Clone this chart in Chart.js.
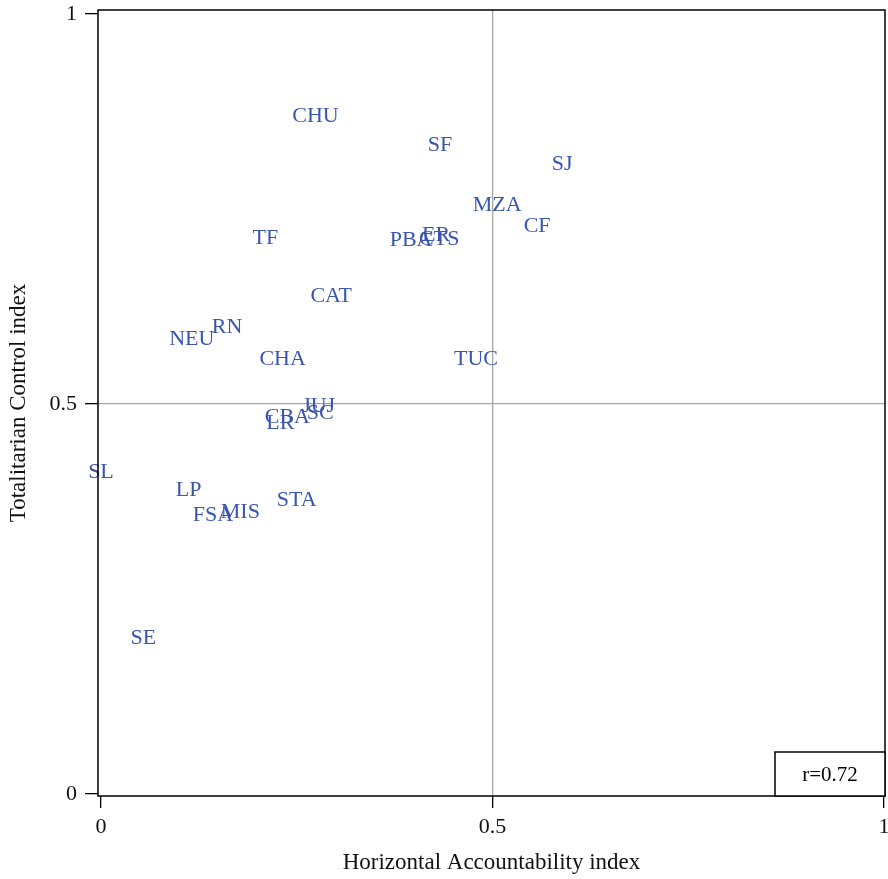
<!DOCTYPE html>
<html>
<head>
<meta charset="utf-8">
<script src="https://cdn.jsdelivr.net/npm/chart.js@4.4.1/dist/chart.umd.min.js"></script>
<style>
  html, body { margin: 0; padding: 0; background: #fff; }
  canvas { display: block; }
</style>
</head>
<body>
<canvas id="c" width="888" height="879"></canvas>
<script>
// Provinces and their index scores
const provinces = ["CHU","SF","SJ","MZA","CF","TF","PBA","ER","CTS","CAT","RN","NEU","CHA","TUC","JUJ","CBA","SC","LR","SL","LP","STA","FSA","MIS","SE"];
const horizontalAccountability = [0.274,0.433,0.589,0.506,0.557,0.210,0.396,0.428,0.432,0.294,0.161,0.116,0.232,0.479,0.278,0.238,0.280,0.229,0.000,0.112,0.250,0.143,0.178,0.054];
const totalitarianControl = [0.869,0.832,0.807,0.755,0.728,0.712,0.710,0.716,0.711,0.638,0.599,0.583,0.557,0.558,0.497,0.483,0.488,0.475,0.412,0.390,0.376,0.357,0.361,0.200];
const tickValues = [0, 0.5, 1];
const correlationLabel = "r=0.72";

const points = provinces.map((p, i) => ({ x: horizontalAccountability[i], y: totalitarianControl[i], label: p }));

const FONT = "'Liberation Serif', 'Times New Roman', serif";

// Province codes drawn at their data positions
const labelPlugin = {
  id: 'pointLabels',
  afterDatasetsDraw(chart) {
    const ctx = chart.ctx;
    const meta = chart.getDatasetMeta(0);
    ctx.save();
    ctx.font = "22px " + FONT;
    ctx.fillStyle = "#3a55ad";
    ctx.textAlign = "center";
    ctx.textBaseline = "middle";
    meta.data.forEach((el, i) => {
      ctx.fillText(points[i].label, el.x, el.y);
    });
    ctx.restore();
  }
};

// Frame around the plot and the correlation box
const framePlugin = {
  id: 'frame',
  afterDraw(chart) {
    const { ctx, chartArea: a } = chart;
    ctx.save();
    ctx.strokeStyle = "#000";
    ctx.lineWidth = 1.5;
    ctx.strokeRect(a.left, a.top, a.right - a.left, a.bottom - a.top);
    const bw = 110, bh = 44;
    ctx.fillStyle = "#fff";
    ctx.fillRect(a.right - bw, a.bottom - bh, bw, bh);
    ctx.strokeRect(a.right - bw, a.bottom - bh, bw, bh);
    ctx.fillStyle = "#000";
    ctx.font = "21px " + FONT;
    ctx.textAlign = "center";
    ctx.textBaseline = "middle";
    ctx.fillText(correlationLabel, a.right - bw / 2, a.bottom - bh / 2 + 1);
    ctx.restore();
  }
};

const gridColor = (ctx) => (ctx.tick && ctx.tick.value === 0.5) ? "#a6a6a6" : "rgba(0,0,0,0)";
const fmt = (v) => v === 0.5 ? "0.5" : String(v);

new Chart(document.getElementById('c'), {
  type: 'scatter',
  data: {
    datasets: [{
      data: points,
      pointRadius: 0,
      pointHoverRadius: 0,
      showLine: false
    }]
  },
  options: {
    responsive: false,
    animation: false,
    events: [],
    layout: { padding: { left: 0, right: 3, top: 10, bottom: 0 } },
    plugins: { legend: { display: false }, tooltip: { enabled: false } },
    scales: {
      x: {
        type: 'linear',
        min: -0.0038,
        max: 1.0013,
        afterBuildTicks: (s) => { s.ticks = tickValues.map(v => ({ value: v })); },
        afterFit: (s) => { s.height = 83; s.paddingLeft = 0; s.paddingRight = 0; },
        grid: { color: gridColor, lineWidth: 1.3, tickColor: "#000", tickLength: 12, drawTicks: true },
        border: { display: false },
        ticks: { color: "#111", font: { family: FONT, size: 22 }, padding: 6, maxRotation: 0, callback: fmt },
        title: { display: true, text: "Horizontal Accountability index", color: "#111", font: { family: FONT, size: 23 }, padding: { top: 4, bottom: 2 } }
      },
      y: {
        type: 'linear',
        min: -0.0026,
        max: 1.0051,
        afterBuildTicks: (s) => { s.ticks = tickValues.map(v => ({ value: v })); },
        afterFit: (s) => { s.width = 98; s.paddingTop = 0; s.paddingBottom = 0; },
        grid: { color: gridColor, lineWidth: 1.3, tickColor: "#000", tickLength: 13, drawTicks: true },
        border: { display: false },
        ticks: { color: "#111", font: { family: FONT, size: 22 }, padding: 8, callback: fmt },
        title: { display: true, text: "Totalitarian Control index", color: "#111", font: { family: FONT, size: 23 }, padding: { top: 5, bottom: 4 } }
      }
    }
  },
  plugins: [labelPlugin, framePlugin]
});
</script>
</body>
</html>
